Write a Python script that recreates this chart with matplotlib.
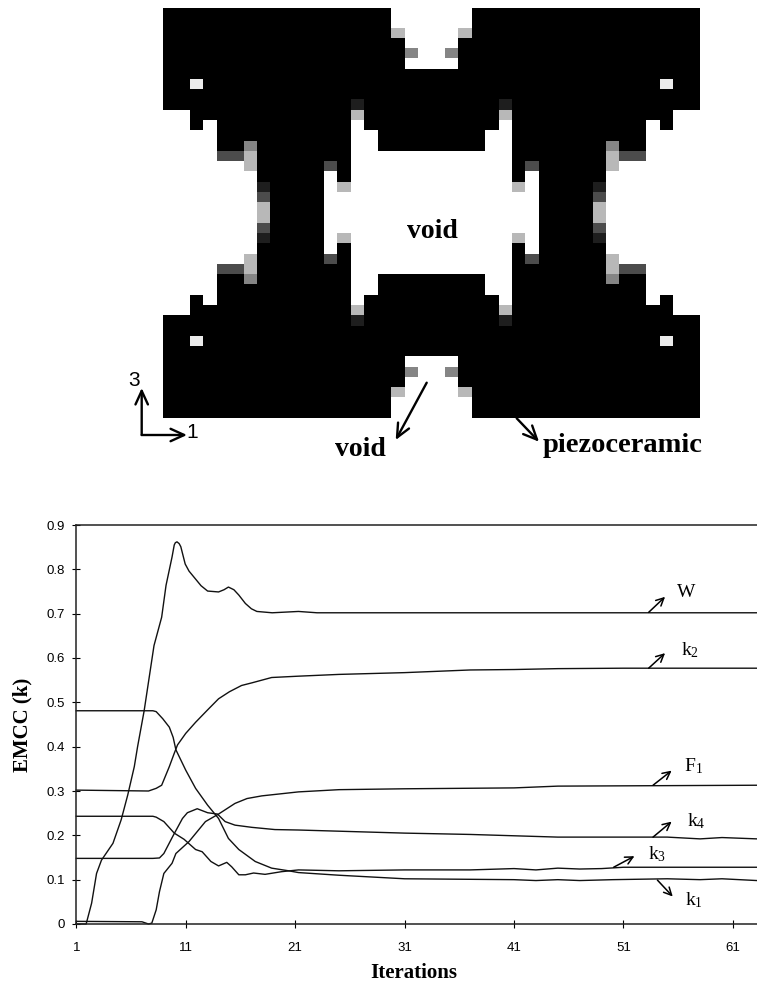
import matplotlib
matplotlib.use('Agg')
import matplotlib.pyplot as plt
import numpy as np

plt.rcParams['mathtext.fontset'] = 'custom'
plt.rcParams['mathtext.rm'] = 'Liberation Serif'
plt.rcParams['mathtext.default'] = 'rm'

# Top-left quarter of the unit cell, mirrored to get the whole thing
quarter = [
    "#################...",
    "#################...",
    "#################g..",
    "##################..",
    "##################m.",
    "##################..",
    "####################",
    "##w#################",
    "####################",
    "##############x#####",
    "..############g#####",
    "..#.##########.#####",
    "....##########..####",
    "....##m#######..####",
    "....ddg#######......",
    "......g#####d#......",
    ".......#####.#......",
    ".......x####.g......",
    ".......d####........",
    ".......g####........",
]
shades = {'#': 0.0, 'x': 0.12, 'd': 0.3, 'm': 0.52, 'g': 0.72, 'w': 0.92, '.': 1.0}

# Convergence history
w_x = [1, 1.9, 2.4, 2.85, 3.3, 4.35, 5.1, 5.7, 6.3, 6.6, 7.2, 8.1, 8.8, 9.2, 9.75, 9.95, 10.05, 10.2, 10.4, 10.55, 10.95,
       11.3, 11.9, 12.4, 13, 14, 14.5, 14.9, 15.4, 15.85, 16.45, 17, 17.5, 18.9, 21.3, 23, 63.2]
w_y = [0, 0, .047, .114, .144, .182, .235, .291, .355, .4, .481, .628, .692, .764, .828, .855, .86, .862, .858, .851,
       .812, .796, .778, .763, .751, .749, .754, .76, .754, .742, .723, .711, .705, .702, .705, .702, .702]
k2_x = [1, 7.6, 8.3, 8.8, 9.5, 9.95, 10.25, 11, 11.9, 13, 14, 15, 16.1, 17.05, 18.85, 21.3, 25, 31, 37, 41, 45, 51, 63.2]
k2_y = [.302, .3, .306, .313, .355, .385, .404, .43, .455, .483, .508, .524, .538, .544, .556, .559, .563, .567, .573,
        .574, .576, .577, .577]
k1_x = [1, 8, 8.3, 8.9, 9.5, 9.85, 10.1, 11, 11.9, 13, 14, 14.9, 15.85, 17.35, 18.85, 20.4, 21.3, 25, 31, 41, 43, 45,
        47, 50, 55, 58, 60, 63.2]
k1_y = [.481, .481, .479, .463, .444, .421, .393, .347, .306, .268, .238, .193, .168, .141, .126, .12, .116, .11,
        .102, .1, .098, .1, .098, .1, .102, .1, .102, .098]
f1_x = [1, 7, 7.6, 7.9, 8.3, 8.6, 9, 9.75, 10.1, 11.3, 12.8, 14, 15.5, 16.6, 17.95, 21.3, 25, 31, 41, 45, 63.2]
f1_y = [.006, .005, 0, .002, .032, .073, .114, .137, .159, .186, .231, .248, .272, .283, .289, .298, .303, .305,
        .307, .311, .313]
k4_x = [1, 8, 8.6, 9, 9.8, 10.7, 11.15, 12.05, 13, 13.9, 14.6, 15.5, 17.05, 19.15, 21.3, 31, 37, 45, 55, 58, 60, 63.2]
k4_y = [.148, .148, .149, .159, .197, .238, .251, .26, .251, .248, .231, .223, .218, .213, .212, .205, .202, .196,
        .196, .192, .195, .192]
k3_x = [1, 8, 8.3, 9, 9.95, 10.85, 11.9, 12.5, 13.3, 14, 14.75, 15.2, 15.85, 16.45, 17.2, 18.25, 19.75, 21.3, 25, 31,
        37, 41, 43, 45, 47, 49, 51, 63.2]
k3_y = [.243, .243, .241, .231, .205, .191, .168, .163, .141, .131, .139, .129, .111, .111, .115, .112, .118, .122,
        .12, .122, .122, .125, .122, .126, .124, .125, .128, .128]

x_ticks = [1, 11, 21, 31, 41, 51, 61]
y_ticks = [0, .1, .2, .3, .4, .5, .6, .7, .8, .9]
y_labels = ['0', '0.1', '0.2', '0.3', '0.4', '0.5', '0.6', '0.7', '0.8', '0.9']

# label, arrow start, arrow end, text position
curve_labels = [
    ('W', (53.3, .703), (54.8, .738), (55.9, .747)),
    ('k$_2$', (53.3, .577), (54.8, .611), (56.3, .617)),
    ('F$_1$', (53.7, .313), (55.4, .346), (56.5, .355)),
    ('k$_4$', (53.7, .196), (55.4, .231), (56.8, .231)),
    ('k$_3$', (50.1, .128), (52.0, .153), (53.2, .158)),
    ('k$_1$', (54.1, .099), (55.5, .062), (56.6, .053)),
]

W, H = 757, 984
fig = plt.figure(figsize=(W / 100, H / 100), dpi=100)

# Topology picture
top = np.array([[shades[c] for c in row] for row in quarter])
top = np.hstack([top, top[:, ::-1]])
top = np.vstack([top, top[::-1, :]])
ax_top = fig.add_axes([162.7 / W, 1 - 418.3 / H, 536.5 / W, 410 / H])
ax_top.imshow(top, cmap='gray', vmin=0, vmax=1, aspect='auto', interpolation='nearest')
ax_top.axis('off')

# Chart
ax = fig.add_axes([76.3 / W, 60 / H, (W - 76.3) / W, 399 / H])
for xs, ys in [(w_x, w_y), (k2_x, k2_y), (k1_x, k1_y), (f1_x, f1_y), (k4_x, k4_y), (k3_x, k3_y)]:
    ax.plot(xs, ys, color='#111111', lw=1.0, clip_on=False)
ax.set_xlim(1, 63.2)
ax.set_ylim(0, 0.9)
ax.spines['right'].set_visible(False)
for s in ['top', 'left', 'bottom']:
    ax.spines[s].set_linewidth(1.1)
    ax.spines[s].set_color('#222222')
ax.set_xticks(x_ticks)
ax.set_yticks(y_ticks)
ax.set_yticklabels(y_labels)
ax.tick_params(direction='inout', length=6, width=0.8, labelsize=9.5, pad=5)
for t in ax.get_xticklabels() + ax.get_yticklabels():
    t.set_family('Liberation Sans')
ax.tick_params(axis='x', pad=10)

for label, start, end, pos in curve_labels:
    ax.annotate('', xy=end, xytext=start,
                arrowprops=dict(arrowstyle='->,head_length=0.5,head_width=0.25', lw=1.1, color='black',
                                shrinkA=0, shrinkB=0, mutation_scale=11))
    ax.text(pos[0], pos[1], label, family='Liberation Serif', fontsize=14, va='center', ha='left')

fig.text(22 / W, 1 - 725 / H, 'EMCC (k)', family='Liberation Serif', weight='bold', fontsize=15,
         rotation=90, ha='center', va='center')
fig.text(414 / W, 1 - 972.5 / H, 'Iterations', family='Liberation Serif', weight='bold', fontsize=15,
         ha='center', va='center')

# Labels on the picture, in pixel coordinates of the page
ov = fig.add_axes([0, 0, 1, 1])
ov.set_xlim(0, W)
ov.set_ylim(H, 0)
ov.axis('off')
ov.patch.set_alpha(0)
for s, px, py, fs in [('void', 432, 231, 20), ('void', 360, 450, 20), ('piezoceramic', 623, 445, 20.5)]:
    ov.text(px, py, s, family='Liberation Serif', weight='bold', fontsize=fs, ha='center', va='center')
ov.text(134, 381, '3', family='Liberation Sans', fontsize=15, ha='center', va='center')
ov.text(191.7, 432.7, '1', family='Liberation Sans', fontsize=15, ha='center', va='center')
for start, end in [((141.7, 435), (141.7, 388)), ((141.7, 435), (187, 435)),
                   ((426.7, 382.7), (395.7, 440)), ((516.7, 418.3), (539, 441.7))]:
    ov.annotate('', xy=end, xytext=start,
                arrowprops=dict(arrowstyle='->,head_length=0.7,head_width=0.32', lw=1.7, color='black',
                                shrinkA=0, shrinkB=0, mutation_scale=14))

fig.savefig('out.png', dpi=100)
